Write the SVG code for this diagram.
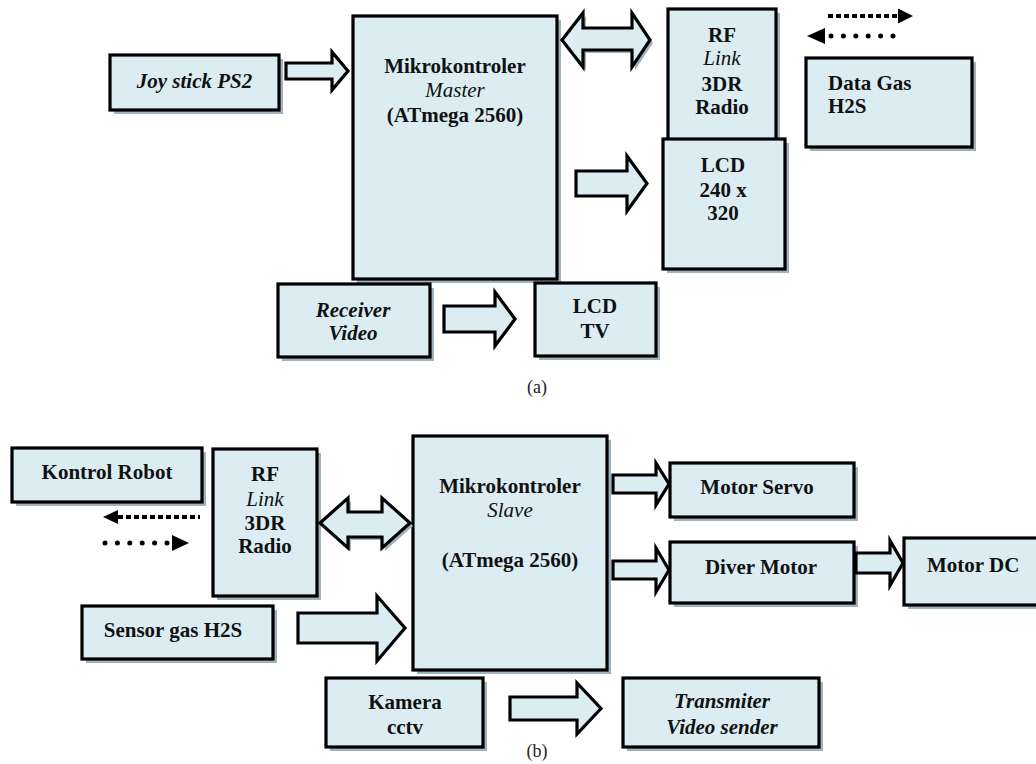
<svg xmlns="http://www.w3.org/2000/svg" width="1036" height="764" viewBox="0 0 1036 764">
<style>
.box{fill:#dbedf3;stroke:#000;stroke-width:3.2}
.sh{fill:#9fb3be}
.arr{fill:#dbedf3;stroke:#000;stroke-width:3.2;stroke-linejoin:miter}
.t{font-family:"Liberation Serif","Times New Roman",serif;font-weight:bold;font-size:21px;fill:#111;text-anchor:middle}
.l{text-anchor:start}
.i{font-style:italic}
.cap{font-family:"Liberation Serif","Times New Roman",serif;font-size:18px;fill:#222;text-anchor:middle}
.dash{stroke:#000;stroke-width:4;stroke-dasharray:5 3;fill:none}
.dot{stroke:#000;stroke-width:5;stroke-linecap:round;stroke-dasharray:0 12.4;fill:none}
.head{fill:#000}
</style>
<rect width="1036" height="764" fill="#fff"/>

<!-- (a) -->
<g id="joystick">
<rect class="sh" x="114" y="59" width="169" height="55"/>
<rect class="box" x="110" y="55" width="169" height="55"/>
<text class="t i" x="194.5" y="88">Joy stick PS2</text>
</g>
<g id="master">
<rect class="sh" x="357" y="20" width="204" height="263"/>
<rect class="box" x="353" y="16" width="204" height="263"/>
<text class="t" x="455" y="73">Mikrokontroler</text>
<text class="t i" x="455" y="97" style="font-weight:normal">Master</text>
<text class="t" x="455" y="122">(ATmega 2560)</text>
</g>
<g id="rf-a">
<rect class="sh" x="672" y="13" width="108" height="131"/>
<rect class="box" x="668" y="9" width="108" height="131"/>
<text class="t" x="722" y="42">RF</text>
<text class="t i" x="722" y="65" style="font-weight:normal">Link</text>
<text class="t" x="722" y="91">3DR</text>
<text class="t" x="722" y="114">Radio</text>
</g>
<g id="lcd">
<rect class="sh" x="667" y="143" width="122" height="130"/>
<rect class="box" x="663" y="139" width="122" height="130"/>
<text class="t" x="723" y="172">LCD</text>
<text class="t" x="723" y="197">240 x</text>
<text class="t" x="723" y="220">320</text>
</g>
<g id="datagas">
<rect class="sh" x="810" y="62" width="166" height="89"/>
<rect class="box" x="806" y="58" width="166" height="89"/>
<text class="t l" x="828" y="90">Data Gas</text>
<text class="t l" x="828" y="113">H2S</text>
</g>
<g id="receiver">
<rect class="sh" x="282" y="288" width="152" height="73"/>
<rect class="box" x="278" y="284" width="152" height="73"/>
<text class="t i" x="353" y="317">Receiver</text>
<text class="t i" x="353" y="340">Video</text>
</g>
<g id="lcdtv">
<rect class="sh" x="539" y="287" width="121" height="73"/>
<rect class="box" x="535" y="283" width="121" height="73"/>
<text class="t" x="595" y="313">LCD</text>
<text class="t" x="595" y="338">TV</text>
</g>
<text class="cap" x="537" y="393">(a)</text>

<!-- (b) -->
<g id="kontrol">
<rect class="sh" x="16" y="452" width="190" height="54"/>
<rect class="box" x="12" y="448" width="190" height="54"/>
<text class="t" x="107" y="479">Kontrol Robot</text>
</g>
<g id="rf-b">
<rect class="sh" x="217" y="453" width="104" height="147"/>
<rect class="box" x="213" y="449" width="104" height="147"/>
<text class="t" x="265" y="481">RF</text>
<text class="t i" x="265" y="506" style="font-weight:normal">Link</text>
<text class="t" x="265" y="530">3DR</text>
<text class="t" x="265" y="553">Radio</text>
</g>
<g id="slave">
<rect class="sh" x="417" y="440" width="194" height="234"/>
<rect class="box" x="413" y="436" width="194" height="234"/>
<text class="t" x="510" y="493">Mikrokontroler</text>
<text class="t i" x="510" y="517" style="font-weight:normal">Slave</text>
<text class="t" x="510" y="567">(ATmega 2560)</text>
</g>
<g id="servo">
<rect class="sh" x="674" y="467" width="184" height="54"/>
<rect class="box" x="670" y="463" width="184" height="54"/>
<text class="t" x="757" y="494">Motor Servo</text>
</g>
<g id="diver">
<rect class="sh" x="674" y="546" width="184" height="61"/>
<rect class="box" x="670" y="542" width="184" height="61"/>
<text class="t" x="761" y="574">Diver Motor</text>
</g>
<g id="motordc">
<rect class="sh" x="908" y="542" width="150" height="67"/>
<rect class="box" x="904" y="538" width="150" height="67"/>
<text class="t l" x="927" y="572">Motor DC</text>
</g>
<g id="sensor">
<rect class="sh" x="86" y="610" width="191" height="53"/>
<rect class="box" x="82" y="606" width="191" height="53"/>
<text class="t" x="173" y="637">Sensor gas H2S</text>
</g>
<g id="kamera">
<rect class="sh" x="330" y="682" width="157" height="69"/>
<rect class="box" x="326" y="678" width="157" height="69"/>
<text class="t" x="405" y="709">Kamera</text>
<text class="t" x="405" y="734">cctv</text>
</g>
<g id="transmiter">
<rect class="sh" x="627" y="682" width="196" height="69"/>
<rect class="box" x="623" y="678" width="196" height="69"/>
<text class="t i" x="722" y="708">Transmiter</text>
<text class="t i" x="722" y="734">Video sender</text>
</g>
<text class="cap" x="537" y="757">(b)</text>

<g id="connectors">
<!-- (a) -->
<path class="arr" d="M286,63 L332,63 L332,52 L348,71 L332,90 L332,79 L286,79 Z"/>
<path class="arr" d="M576,171 L627,171 L627,156 L647,183.5 L627,211 L627,196 L576,196 Z"/>
<path class="arr" d="M444,306 L495,306 L495,292 L515,319 L495,346 L495,332 L444,332 Z"/>
<path class="sh" d="M565,43 L586,16 L586,31 L635,31 L635,16 L653,43 L635,70 L635,53 L586,53 L586,70 Z"/>
<path class="arr" d="M562,40 L583,13 L583,28 L632,28 L632,13 L650,40 L632,67 L632,50 L583,50 L583,67 Z"/>
<line class="dash" x1="828" y1="16" x2="899" y2="16"/>
<polygon class="head" points="898,8.5 913,16 898,23.5"/>
<line class="dot" x1="831" y1="36" x2="894" y2="36"/>
<polygon class="head" points="807,36 825,28 825,44"/>
<!-- (b) -->
<path class="sh" d="M323,526 L351,501 L351,515 L385,515 L385,501 L413,526 L385,551 L385,540 L351,540 L351,551 Z"/>
<path class="arr" d="M320,523 L348,498 L348,512 L382,512 L382,498 L410,523 L382,548 L382,537 L348,537 L348,548 Z"/>
<line class="dash" x1="118" y1="517" x2="200" y2="517"/>
<polygon class="head" points="103,517 118,510 118,524"/>
<line class="dot" x1="105" y1="543" x2="168" y2="543"/>
<polygon class="head" points="189,543 172,535 172,551"/>
<path class="arr" d="M613,475 L656,475 L656,463 L669,484 L656,505 L656,493 L613,493 Z"/>
<path class="arr" d="M613,561 L656,561 L656,548 L669,570 L656,592 L656,579 L613,579 Z"/>
<path class="arr" d="M856,553 L890,553 L890,540.5 L903,563 L890,585.5 L890,573 L856,573 Z"/>
<path class="arr" d="M298,613 L377,613 L377,596 L405,628 L377,661 L377,643 L298,643 Z"/>
<path class="arr" d="M510,697 L577,697 L577,683 L601,708.5 L577,734 L577,720 L510,720 Z"/>
</g>
</svg>
